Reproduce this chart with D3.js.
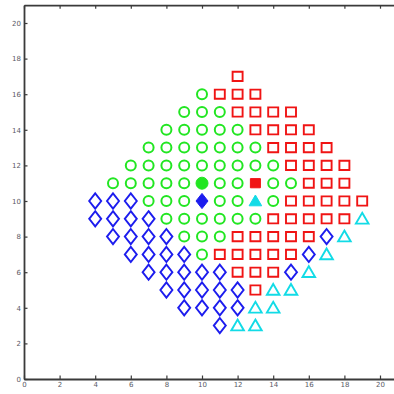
<!DOCTYPE html>
<html>
<head>
<meta charset="utf-8">
<script src="https://cdn.jsdelivr.net/npm/d3@7"></script>
<style>
  html, body { margin: 0; padding: 0; background: #fff; }
  svg { display: block; }
  .axis text { font-family: "DejaVu Sans", sans-serif; font-size: 7px; fill: #5a5a66; }
  .axis path, .axis line { stroke: #3a3a3a; }
</style>
</head>
<body>
<svg id="chart" width="394" height="394"></svg>
<script>
// Grid classes, listed row by row: [y, [x values]]
const greenRows = [
  [16, [10]],
  [15, [9, 10, 11]],
  [14, [8, 9, 10, 11, 12]],
  [13, [7, 8, 9, 10, 11, 12, 13]],
  [12, [6, 7, 8, 9, 10, 11, 12, 13, 14]],
  [11, [5, 6, 7, 8, 9, 11, 12, 14, 15]],
  [10, [7, 8, 9, 11, 12, 14]],
  [9,  [8, 9, 10, 11, 12, 13]],
  [8,  [9, 10, 11]],
  [7,  [10]]
];
const redRows = [
  [17, [12]],
  [16, [11, 12, 13]],
  [15, [12, 13, 14, 15]],
  [14, [13, 14, 15, 16]],
  [13, [14, 15, 16, 17]],
  [12, [15, 16, 17, 18]],
  [11, [16, 17, 18]],
  [10, [15, 16, 17, 18, 19]],
  [9,  [14, 15, 16, 17, 18]],
  [8,  [12, 13, 14, 15, 16]],
  [7,  [11, 12, 13, 14, 15]],
  [6,  [12, 13, 14]],
  [5,  [13]]
];
const blueRows = [
  [10, [4, 5, 6]],
  [9,  [4, 5, 6, 7]],
  [8,  [5, 6, 7, 8, 17]],
  [7,  [6, 7, 8, 9, 16]],
  [6,  [7, 8, 9, 10, 11, 15]],
  [5,  [8, 9, 10, 11, 12]],
  [4,  [9, 10, 11, 12]],
  [3,  [11]]
];
const cyanRows = [
  [9, [19]],
  [8, [18]],
  [7, [17]],
  [6, [16]],
  [5, [14, 15]],
  [4, [13, 14]],
  [3, [12, 13]]
];
// Class centres (filled markers)
const centres = [
  { cls: "green", x: 10, y: 11 },
  { cls: "red",   x: 13, y: 11 },
  { cls: "blue",  x: 10, y: 10 },
  { cls: "cyan",  x: 13, y: 10 }
];
const tickValues = [0, 2, 4, 6, 8, 10, 12, 14, 16, 18, 20];

const colors = { green: "#22e622", red: "#f01414", blue: "#1c1cee", cyan: "#12dbe6" };

const svg = d3.select("#chart");
const x = d3.scaleLinear().domain([0, 21]).range([24, 24 + 21 * 17.8]);
const y = d3.scaleLinear().domain([0, 21]).range([379, 379 - 21 * 17.8]);

function expand(rows, cls) {
  const pts = [];
  rows.forEach(([yy, xs]) => xs.forEach(xx => pts.push({ cls, x: xx, y: yy })));
  return pts;
}
const points = [].concat(
  expand(greenRows, "green"),
  expand(redRows, "red"),
  expand(blueRows, "blue"),
  expand(cyanRows, "cyan")
);

// Marker outlines, centred on (0,0)
const shapePaths = {
  red:  "M-5,-4.6H5V4.6H-5Z",
  blue: "M0,-7.6L6,0L0,7.6L-6,0Z",
  cyan: "M0,-6L6.3,4.8H-6.3Z"
};

function drawMarker(g, d, filled) {
  const col = colors[d.cls];
  const sel = g.append("g").attr("transform", `translate(${x(d.x)},${y(d.y)})`);
  if (d.cls === "green") {
    sel.append("circle").attr("r", filled ? 6 : 5)
      .attr("fill", filled ? col : "none")
      .attr("stroke", col).attr("stroke-width", filled ? 1 : 2);
  } else {
    sel.append("path").attr("d", shapePaths[d.cls])
      .attr("fill", filled ? col : "none")
      .attr("stroke", col).attr("stroke-width", filled ? 1 : 1.9)
      .attr("stroke-linejoin", "miter");
  }
}

const marks = svg.append("g");
points.forEach(d => drawMarker(marks, d, false));
centres.forEach(d => drawMarker(marks, d, true));

// Boxed axes with inward ticks
const axisBottomG = svg.append("g").attr("class", "axis")
  .attr("transform", `translate(0,${y(0)})`)
  .call(d3.axisBottom(x).tickValues(tickValues).tickSizeInner(-3.5).tickSizeOuter(0).tickPadding(3));
const axisLeftG = svg.append("g").attr("class", "axis")
  .attr("transform", `translate(${x(0)},0)`)
  .call(d3.axisLeft(y).tickValues(tickValues).tickSizeInner(-3.5).tickSizeOuter(0).tickPadding(3));
const axisTopG = svg.append("g").attr("class", "axis")
  .attr("transform", `translate(0,${y(21)})`)
  .call(d3.axisTop(x).tickValues(tickValues).tickSizeInner(-3.5).tickSizeOuter(0).tickFormat(""));
const axisRightG = svg.append("g").attr("class", "axis")
  .attr("transform", `translate(${x(21)},0)`)
  .call(d3.axisRight(y).tickValues(tickValues).tickSizeInner(-3.5).tickSizeOuter(0).tickFormat(""));

svg.selectAll(".axis path.domain").attr("stroke-width", 1.8);
svg.selectAll(".axis .tick line").attr("stroke-width", 1.2);
</script>
</body>
</html>
